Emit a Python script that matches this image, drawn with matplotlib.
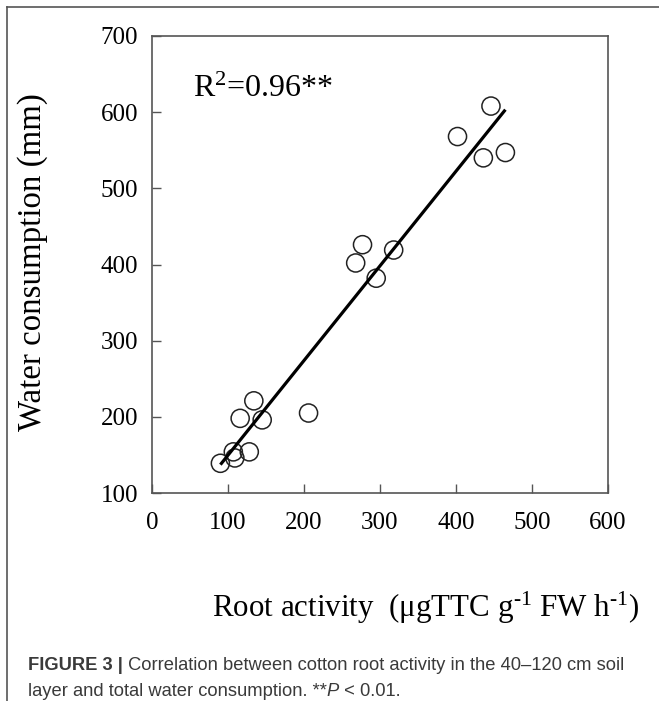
import matplotlib
matplotlib.use("Agg")
import matplotlib.pyplot as plt
import numpy as np
from matplotlib.lines import Line2D

plt.rcParams['mathtext.fontset'] = 'custom'
plt.rcParams['mathtext.rm'] = 'Liberation Serif'
plt.rcParams['mathtext.it'] = 'Liberation Serif:italic'
plt.rcParams['mathtext.bf'] = 'Liberation Serif:bold'

root_activity = [90, 109, 107, 128, 116, 134, 145, 206, 268, 277, 295, 318, 402, 436, 446, 465]
water_use = [139, 146, 154, 154, 198, 221, 196, 205, 402, 426, 382, 419, 568, 540, 608, 547]
x_ticks = [0, 100, 200, 300, 400, 500, 600]
y_ticks = [100, 200, 300, 400, 500, 600, 700]
r2_text = "R$^{2}$=0.96**"

serif = 'Liberation Serif'
spine_col = '#555555'

fig = plt.figure(figsize=(6.59, 7.01), dpi=100)
ax = fig.add_axes([152/659, 1-493/701, 456/659, 457/701])

ax.scatter(root_activity, water_use, s=170, facecolors='none', edgecolors='#222222',
           linewidths=1.1, zorder=3)

xa = np.array(root_activity, float)
ya = np.array(water_use, float)
k, b = np.polyfit(xa, ya, 1)
xl = np.array([xa.min(), xa.max()])
ax.plot(xl, k*xl + b, color='black', lw=2.3, zorder=4, solid_capstyle='butt')

ax.set_xlim(0, 600)
ax.set_ylim(100, 700)
ax.set_xticks(x_ticks)
ax.set_yticks(y_ticks)
ax.tick_params(axis='both', which='major', direction='in', length=6.5, width=1,
               color=spine_col, labelsize=18)
ax.tick_params(axis='x', pad=14)
ax.tick_params(axis='y', pad=10)
for lab in ax.get_xticklabels() + ax.get_yticklabels():
    lab.set_fontfamily(serif)
for sp in ax.spines.values():
    sp.set_color(spine_col)
    sp.set_linewidth(1.2)

ax.text(0.09, 0.8665, r2_text, transform=ax.transAxes, fontsize=23, family=serif,
        ha='left', va='baseline')

fig.text(33/659, 1-262/701, 'Water consumption (mm)', rotation=90, fontsize=23.7,
         family=serif, ha='center', va='center')
fig.text(426/659, 1-608/701, r'Root activity  (μgTTC g$^{\text{-}1}$ FW h$^{\text{-}1}$)',
         fontsize=22.3, family=serif, ha='center', va='center')

# outer frame (top and left lines)
fig.add_artist(Line2D([7/659, 1], [1-7/701, 1-7/701], transform=fig.transFigure,
                      color=spine_col, lw=1.2))
fig.add_artist(Line2D([7/659, 7/659], [1-7/701, 0], transform=fig.transFigure,
                      color=spine_col, lw=1.2))

cap_col = '#3a3a3a'
cs = 13.2
t1 = fig.text(28/659, 1-666/701, 'FIGURE 3 |', fontsize=cs, family='Liberation Sans',
              weight='bold', color=cap_col, va='center', ha='left')
ax.annotate(' Correlation between cotton root activity in the 40–120 cm soil',
            xy=(1, 0), xycoords=t1, fontsize=cs, family='Liberation Sans',
            color=cap_col, ha='left', va='bottom', annotation_clip=False)
t2 = fig.text(28/659, 1-691/701, 'layer and total water consumption. **', fontsize=cs,
              family='Liberation Sans', color=cap_col, va='center', ha='left')
t3 = ax.annotate('P', xy=(1, 0), xycoords=t2, fontsize=cs, family='Liberation Sans',
                 style='italic', color=cap_col, ha='left', va='bottom', annotation_clip=False)
ax.annotate(' < 0.01.', xy=(1, 0), xycoords=t3, fontsize=cs, family='Liberation Sans',
            color=cap_col, ha='left', va='bottom', annotation_clip=False)

fig.savefig('out.png', dpi=100)
